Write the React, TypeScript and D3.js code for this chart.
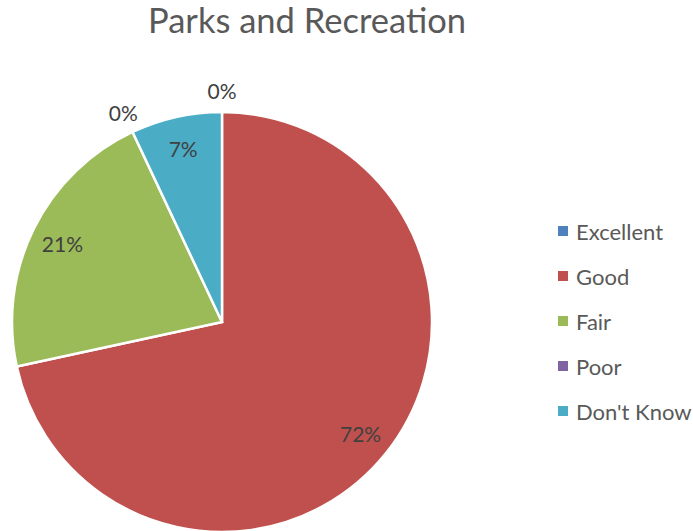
import React from "react";
import * as d3 from "d3";

const categories = ["Excellent", "Good", "Fair", "Poor", "Don't Know"];
const values = [0, 71.6, 21.4, 0, 7.0];
const labels = ["0%", "72%", "21%", "0%", "7%"];
const colors = ["#4F81BD", "#C0504D", "#9BBB59", "#8064A2", "#4BACC6"];

const W = 693;
const H = 531;
const cx = 222;
const cy = 322;
const R = 210;
const font = "Lato, 'Open Sans', sans-serif";

export default function App() {
  const pie = d3.pie<number>().sort(null).value((d) => d);
  const arcs = pie(values);
  const arc = d3.arc<d3.PieArcDatum<number>>().innerRadius(0).outerRadius(R);
  const labelArcIn = d3.arc<d3.PieArcDatum<number>>().innerRadius(178).outerRadius(178);
  const labelArcOut = d3.arc<d3.PieArcDatum<number>>().innerRadius(232).outerRadius(232);

  const legendY = d3.scalePoint<string>().domain(categories).range([231, 411]);

  return (
    <svg width={W} height={H} style={{ position: "absolute", left: 0, top: 0, background: "#fff" }}>
      <text x={307} y={33} textAnchor="middle" fontFamily={font} fontSize={34.5} fill="#595959">
        Parks and Recreation
      </text>
      <g transform={`translate(${cx},${cy})`}>
        {arcs.map((a, i) =>
          a.value > 0 ? (
            <path key={i} d={arc(a) || ""} fill={colors[i]} stroke="#fff" strokeWidth={2.5} />
          ) : null
        )}
        {arcs.map((a, i) => {
          const [x, y] = a.value > 0 ? labelArcIn.centroid(a) : labelArcOut.centroid(a);
          return (
            <text key={i} x={x} y={y} textAnchor="middle" dominantBaseline="central" fontFamily={font} fontSize={21} fill="#404040">
              {labels[i]}
            </text>
          );
        })}
      </g>
      {categories.map((c, i) => (
        <g key={c}>
          <rect x={558} y={(legendY(c) as number) - 5} width={10} height={10} fill={colors[i]} />
          <text x={576} y={legendY(c)} dominantBaseline="central" fontFamily={font} fontSize={22} fill="#595959">
            {c}
          </text>
        </g>
      ))}
    </svg>
  );
}
